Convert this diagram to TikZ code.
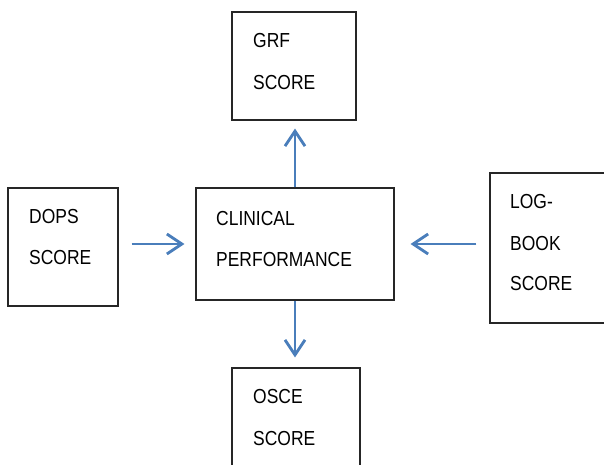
\documentclass[tikz,border=0pt]{standalone}
\usepackage{fontspec}
\setmainfont[FakeStretch=0.86]{Liberation Sans}
\usetikzlibrary{arrows.meta}
\definecolor{arrowblue}{HTML}{4A7EBB}
\tikzset{
  box/.style={draw=black!85, line width=1.2pt, inner sep=0pt},
  lbl/.style={anchor=base west, inner sep=0pt, font=\fontsize{20.3}{24}\selectfont},
  conn/.style={draw=arrowblue, line width=2.8pt, -{Straight Barb[length=15pt,width=20pt]}}
}
\begin{document}
\begin{tikzpicture}[x=1pt,y=-1pt]
\useasboundingbox (0,0) rectangle (604,465);
\clip (0,0) rectangle (604,465);
% boxes
\node[box, minimum width=124pt, minimum height=108pt] (grf) at (294,66) {};
\node[box, minimum width=110pt, minimum height=118pt] (dops) at (63,247) {};
\node[box, minimum width=198pt, minimum height=112pt] (clin) at (295,244) {};
\node[box, minimum width=124pt, minimum height=150pt] (log) at (552,248) {};
\node[box, minimum width=128pt, minimum height=110pt] (osce) at (296,423) {};
% labels
\node[lbl] (t1) at (253,48) {GRF};
\node[lbl] (t2) at (253,90) {SCORE};
\node[lbl] (t3) at (29,223) {DOPS};
\node[lbl] (t4) at (29,264) {SCORE};
\node[lbl] (t5) at (216,225) {CLINICAL};
\node[lbl] (t6) at (216,266) {PERFORMANCE};
\node[lbl] (t7) at (510,208) {LOG-};
\node[lbl] (t8) at (510,250) {BOOK};
\node[lbl] (t9) at (510,290) {SCORE};
\node[lbl] (t10) at (253,403) {OSCE};
\node[lbl] (t11) at (253,445) {SCORE};
% connectors
\draw[conn, shorten <=13pt, shorten >=11pt] (dops.east |- clin.west) -- (clin.west);
\draw[conn, shorten <=13pt, shorten >=16pt] (log.west |- clin.east) -- (clin.east);
\draw[conn, shorten >=8pt] (clin.north) -- (clin.north |- grf.south);
\draw[conn, shorten >=10pt] (clin.south) -- (clin.south |- osce.north);
\end{tikzpicture}
\end{document}
